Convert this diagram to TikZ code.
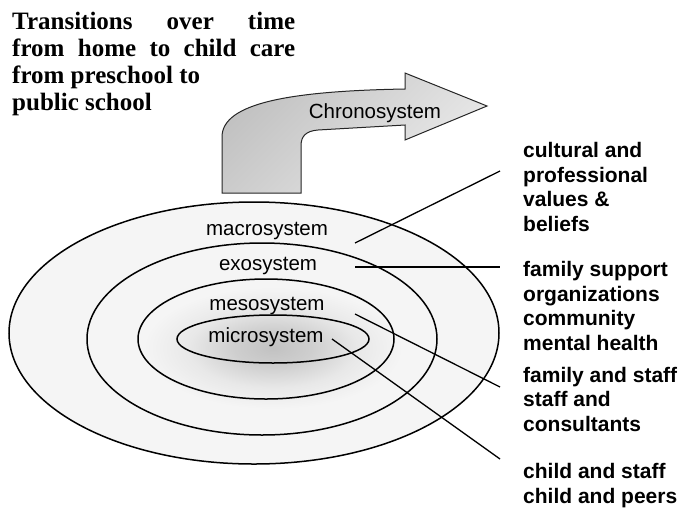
\documentclass[tikz,border=0pt]{standalone}
\usepackage{fontspec}
\setmainfont{Liberation Serif}
\setsansfont{Liberation Sans}
\pgfdeclareradialshading{coreglow}{\pgfpoint{0bp}{0bp}}{color(0bp)=(black!24); color(7bp)=(black!19); color(15bp)=(black!9); color(23bp)=(black!4); color(50bp)=(black!4)}
\begin{document}
\begin{tikzpicture}[x=1pt,y=-1pt,
  ring/.style={draw=black, line width=1.5pt},
  conn/.style={draw=black, line width=1.3pt},
  ringlabel/.style={font=\sffamily\fontsize{20.5}{24}\selectfont, anchor=base, inner sep=0pt},
  sidelabel/.style={font=\sffamily\bfseries\fontsize{21}{24.5}\selectfont, anchor=base west, align=left, inner sep=0pt},
  titletext/.style={font=\rmfamily\bfseries\fontsize{25}{27}\selectfont, anchor=base west, align=left, inner sep=0pt}]
\useasboundingbox (0,0) rectangle (683,531);

% title (anchor at the baseline of its last line)
\node[titletext] (title) at (12,110) {\makebox[283pt][s]{Transitions over time}\\
\makebox[283pt][s]{from home to child care}\\
from preschool to\\
public school};

% rings background and glow
\fill[black!4] (254,333) ellipse [x radius=245, y radius=131];
\shade[shading=coreglow] (273,348) ellipse [x radius=140, y radius=66];

\draw[ring] (254,333) ellipse [x radius=245, y radius=131];
\draw[ring] (262,339) ellipse [x radius=175, y radius=96];
\draw[ring] (266,339) ellipse [x radius=128, y radius=60];
\draw[ring] (273,339) ellipse [x radius=96, y radius=24];

% chronosystem arrow
\shade[draw=black!85, line width=1pt, top color=black!24, bottom color=black!8, shading angle=45]
  (222,193) -- (222,137) .. controls (222,103) and (290,91) .. (405,89)
  -- (405,73) -- (487,106) -- (405,140) -- (405,125) -- (318,130)
  .. controls (306,131) and (301,136) .. (301,146) -- (301,193) -- cycle;
\node[ringlabel] (chrono) at (375,118) {Chronosystem};

% ring labels
\node[ringlabel] (macro) at (267,235) {macrosystem};
\node[ringlabel] (exo) at (268,270) {exosystem};
\node[ringlabel] (meso) at (267,310) {mesosystem};
\node[ringlabel] (micro) at (266,342) {microsystem};

% side labels (anchor at the baseline of the last line)
\node[sidelabel] (cult) at (523,231) {cultural and\\professional\\values \&\\beliefs};
\node[sidelabel] (fam) at (523,350) {family support\\organizations\\community\\mental health};
\node[sidelabel] (staff) at (523,431) {family and staff\\staff and\\consultants};
\node[sidelabel] (child) at (523,503) {child and staff\\child and peers};

% connectors
\coordinate (c1a) at (355,243); \coordinate (c1b) at (500,171);
\coordinate (c2a) at (355,267); \coordinate (c2b) at (500,267);
\coordinate (c3a) at (355,314); \coordinate (c3b) at (500,387);
\coordinate (c4a) at (332,339); \coordinate (c4b) at (500,459);
\draw[conn] (c1a) -- (c1b);
\draw[conn] (c2a) -- (c2b);
\draw[conn] (c3a) -- (c3b);
\draw[conn] (c4a) -- (c4b);
\end{tikzpicture}
\end{document}
